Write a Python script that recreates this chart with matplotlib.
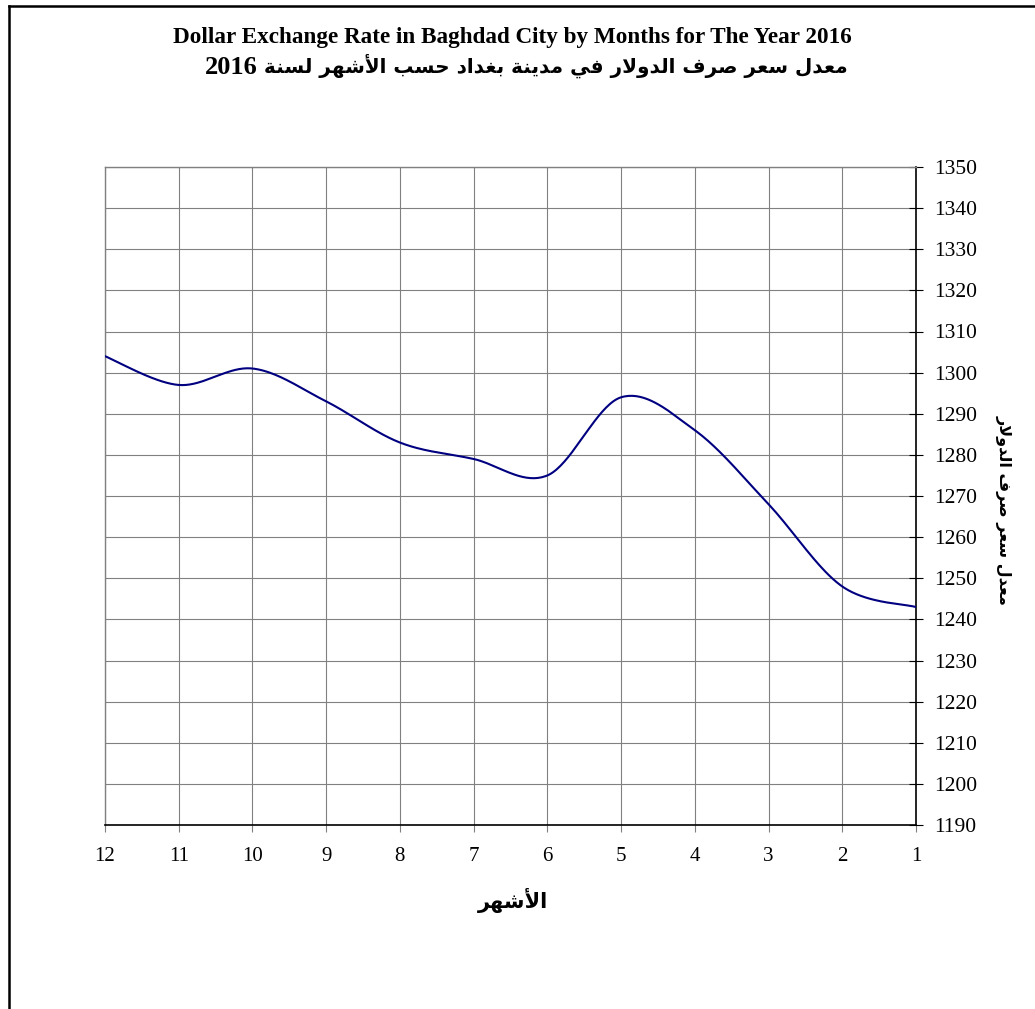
import re
import numpy as np
import matplotlib
matplotlib.use("Agg")
import matplotlib.pyplot as plt
from matplotlib.lines import Line2D

# ---------------- data ----------------
months = [1, 2, 3, 4, 5, 6, 7, 8, 9, 10, 11, 12]
rates = [1243, 1248, 1268, 1286, 1294, 1275, 1279, 1283, 1293, 1301, 1297, 1304]
y_ticks = list(range(1190, 1351, 10))
x_ticks = months

title_en = "Dollar Exchange Rate in Baghdad City by Months for The Year 2016"
title_ar = "معدل سعر صرف الدولار في مدينة بغداد حسب الأشهر لسنة"
title_year = "2016"
xlabel_ar = "الأشهر"
ylabel_ar = "معدل سعر صرف الدولار"

# ---------------- minimal Arabic shaping ----------------
FORMS = {
    '\u0627': ('\uFE8D', '\uFE8E', None, None),
    '\u0623': ('\uFE83', '\uFE84', None, None),
    '\u0628': ('\uFE8F', '\uFE90', '\uFE91', '\uFE92'),
    '\u0629': ('\uFE93', '\uFE94', None, None),
    '\u062D': ('\uFEA1', '\uFEA2', '\uFEA3', '\uFEA4'),
    '\u062F': ('\uFEA9', '\uFEAA', None, None),
    '\u0631': ('\uFEAD', '\uFEAE', None, None),
    '\u0633': ('\uFEB1', '\uFEB2', '\uFEB3', '\uFEB4'),
    '\u0634': ('\uFEB5', '\uFEB6', '\uFEB7', '\uFEB8'),
    '\u0635': ('\uFEB9', '\uFEBA', '\uFEBB', '\uFEBC'),
    '\u0639': ('\uFEC9', '\uFECA', '\uFECB', '\uFECC'),
    '\u063A': ('\uFECD', '\uFECE', '\uFECF', '\uFED0'),
    '\u0641': ('\uFED1', '\uFED2', '\uFED3', '\uFED4'),
    '\u0644': ('\uFEDD', '\uFEDE', '\uFEDF', '\uFEE0'),
    '\u0645': ('\uFEE1', '\uFEE2', '\uFEE3', '\uFEE4'),
    '\u0646': ('\uFEE5', '\uFEE6', '\uFEE7', '\uFEE8'),
    '\u0647': ('\uFEE9', '\uFEEA', '\uFEEB', '\uFEEC'),
    '\u0648': ('\uFEED', '\uFEEE', None, None),
    '\u064A': ('\uFEF1', '\uFEF2', '\uFEF3', '\uFEF4'),
}
LAM_ALEF = {'\u0627': ('\uFEFB', '\uFEFC'), '\u0623': ('\uFEF7', '\uFEF8')}


def shape(text):
    chars = []
    i = 0
    while i < len(text):
        c = text[i]
        if c == '\u0644' and i + 1 < len(text) and text[i + 1] in LAM_ALEF:
            chars.append(('LA', text[i + 1]))
            i += 2
        else:
            chars.append(('C', c))
            i += 1

    def dual(item):
        k, c = item
        return k == 'C' and c in FORMS and FORMS[c][2] is not None

    def arabic(item):
        k, c = item
        return k == 'LA' or c in FORMS

    out = []
    for j, (k, c) in enumerate(chars):
        prev_joins = j > 0 and dual(chars[j - 1])
        if k == 'LA':
            out.append(LAM_ALEF[c][1 if prev_joins else 0])
            continue
        if c not in FORMS:
            out.append(c)
            continue
        f = FORMS[c]
        next_ok = j + 1 < len(chars) and arabic(chars[j + 1]) and f[2] is not None
        if prev_joins and next_ok:
            out.append(f[3])
        elif prev_joins:
            out.append(f[1])
        elif next_ok:
            out.append(f[2])
        else:
            out.append(f[0])
    s = ''.join(out)[::-1]
    return re.sub(r'[0-9]+', lambda m: m.group(0)[::-1], s)


# ---------------- smoothing (Excel-like Catmull-Rom Bezier) ----------------
def smooth(xs, ys, n=40):
    x = np.asarray(xs, float)
    y = np.asarray(ys, float)
    px = np.concatenate([[x[0]], x, [x[-1]]])
    py = np.concatenate([[y[0]], y, [y[-1]]])
    ox, oy = [], []
    t = np.linspace(0, 1, n)
    for i in range(1, len(px) - 2):
        p0 = np.array([px[i], py[i]])
        p3 = np.array([px[i + 1], py[i + 1]])
        b1 = p0 + (p3 - np.array([px[i - 1], py[i - 1]])) / 6
        b2 = p3 - (np.array([px[i + 2], py[i + 2]]) - p0) / 6
        pts = ((1 - t) ** 3)[:, None] * p0 + (3 * (1 - t) ** 2 * t)[:, None] * b1 \
            + (3 * (1 - t) * t ** 2)[:, None] * b2 + (t ** 3)[:, None] * p3
        ox.extend(pts[:, 0])
        oy.extend(pts[:, 1])
    return np.array(ox), np.array(oy)


# ---------------- figure ----------------
W, H = 1035, 1009
fig = plt.figure(figsize=(W / 100, H / 100), dpi=100)
fig.patch.set_facecolor('white')

serif = ['Liberation Serif', 'DejaVu Serif']
mixed = ['DejaVu Sans', 'Liberation Serif']

left, right, top, bottom = 105, 916, 167, 825
ax = fig.add_axes([left / W, 1 - bottom / H, (right - left) / W, (bottom - top) / H])

sx, sy = smooth(months, rates)
ax.plot(sx, sy, color='#000080', lw=1.5, solid_capstyle='round', zorder=3)

ax.set_xlim(12, 1)
ax.set_ylim(1190, 1350)
ax.set_xticks(x_ticks)
ax.set_yticks(y_ticks)
ax.grid(True, color='#808080', lw=0.8, zorder=1)

ax.yaxis.tick_right()
ax.tick_params(axis='y', direction='inout', length=10, width=0.8, color='black',
               pad=8, labelsize=15.5)
ax.tick_params(axis='x', direction='out', length=5, width=0.8, color='#808080',
               pad=11, labelsize=15)
for lab in ax.get_xticklabels() + ax.get_yticklabels():
    lab.set_fontfamily(serif)

for side in ('left', 'top'):
    ax.spines[side].set_color('#808080')
    ax.spines[side].set_linewidth(1.0)
for side in ('bottom', 'right'):
    ax.spines[side].set_color('black')
    ax.spines[side].set_linewidth(1.2)

# titles and labels
fig.text(512 / W, 1 - 37 / H, title_en, ha='center', va='center',
         fontsize=16.7, fontweight='bold', family=serif)
fig.text(848 / W, 1 - 66 / H, shape(title_ar), ha='right', va='center',
         fontsize=14.4, fontweight='bold', family=mixed)
fig.text(205 / W, 1 - 67 / H, title_year, ha='left', va='center',
         fontsize=19, fontweight='bold', family=serif)
fig.text(513 / W, 1 - 900 / H, shape(xlabel_ar), ha='center', va='center',
         fontsize=15, fontweight='bold', family=mixed)
fig.text(1004 / W, 1 - 510 / H, shape(ylabel_ar), ha='center', va='center',
         rotation=270, fontsize=11.5, fontweight='bold', family=mixed)

# outer frame (top and left edges)
fig.add_artist(Line2D([8.5 / W, 1.0], [1 - 5.5 / H, 1 - 5.5 / H], color='black', lw=1.8))
fig.add_artist(Line2D([8.5 / W, 8.5 / W], [1 - 5.5 / H, 0], color='black', lw=1.8))

fig.savefig('out.png', dpi=100)
